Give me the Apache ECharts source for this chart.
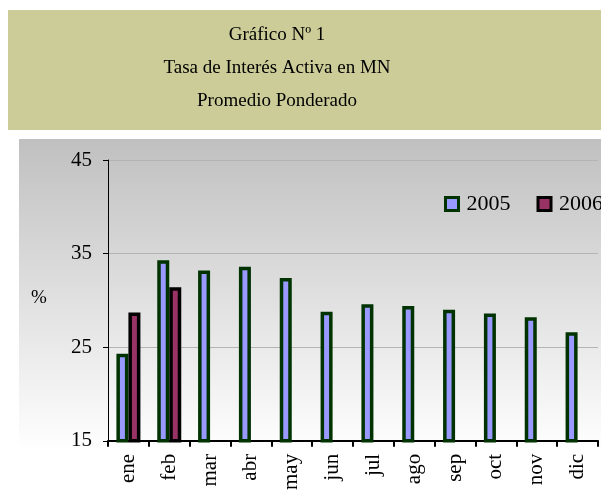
<!DOCTYPE html>
<html>
<head>
<meta charset="utf-8">
<script src="https://cdn.jsdelivr.net/npm/echarts@6/dist/echarts.min.js"></script>
<style>html,body{margin:0;padding:0;background:#fff;}#c{width:601px;height:493px;}</style>
</head>
<body>
<div id="c"></div>
<script>
const titleLines = ['Gráfico Nº 1', 'Tasa de Interés Activa en MN', 'Promedio Ponderado'];
const months = ['ene','feb','mar','abr','may','jun','jul','ago','sep','oct','nov','dic'];
const seriesNames = ['2005', '2006'];
const values2005 = [24.3, 34.3, 33.2, 33.6, 32.4, 28.8, 29.6, 29.4, 29.0, 28.6, 28.2, 26.6];
const values2006 = [28.7, 31.4, null, null, null, null, null, null, null, null, null, null];
const yTicks = [15, 25, 35, 45];

const FONT = '"Liberation Serif", "Times New Roman", serif';
const chart = echarts.init(document.getElementById('c'), null, {renderer: 'canvas'});
chart.setOption({
  animation: false,
  backgroundColor: '#ffffff',
  graphic: [
    {type: 'rect', z: -10, shape: {x: 8, y: 10, width: 600, height: 120}, style: {fill: '#cccc99'}},
    {type: 'rect', z: -10, shape: {x: 19, y: 139, width: 590, height: 340},
      style: {fill: new echarts.graphic.LinearGradient(0, 0, 0, 1, [
        {offset: 0, color: '#c0c0c0'}, {offset: 0.92, color: '#ffffff'}, {offset: 1, color: '#ffffff'}])}},
    {type: 'text', left: 31, top: 289, style: {text: '%', font: '19px ' + FONT, fill: '#000'}}
  ],
  title: titleLines.map((t, i) => ({
    text: t, left: 272, top: 21 + i * 33, textAlign: 'center',
    textStyle: {fontFamily: FONT, fontSize: 19, fontWeight: 'normal', color: '#000'}
  })),
  legend: {
    data: seriesNames, left: 444, top: 193, width: 300, orient: 'horizontal', padding: 0,
    itemWidth: 13, itemHeight: 13, itemGap: 26, icon: 'rect',
    itemStyle: {borderWidth: 3},
    textStyle: {fontFamily: FONT, fontSize: 22, color: '#000', padding: [0, 0, 0, 3]}
  },
  grid: {left: 108, right: 3, top: 160, bottom: 50, containLabel: false},
  xAxis: {
    type: 'category', data: months,
    axisLine: {lineStyle: {color: '#000', width: 2}},
    axisTick: {show: true, length: 6, lineStyle: {color: '#000', width: 2}},
    axisLabel: {rotate: 90, margin: 13, fontFamily: FONT, fontSize: 21, color: '#000'}
  },
  yAxis: {
    type: 'value', min: 15, max: 45, interval: 10,
    axisLine: {show: true, lineStyle: {color: '#000', width: 1}},
    axisTick: {show: true, length: 5, lineStyle: {color: '#000'}},
    axisLabel: {margin: 16, fontFamily: FONT, fontSize: 21, color: '#000',
      formatter: v => yTicks.includes(v) ? String(v) : ''},
    splitLine: {show: true, lineStyle: {color: '#b4b4b4', width: 1}}
  },
  series: [
    {name: '2005', type: 'bar', data: values2005, barWidth: 12, barGap: '0%',
      itemStyle: {color: '#9999ff', borderColor: '#003300', borderWidth: 3.5}},
    {name: '2006', type: 'bar', data: values2006, barWidth: 12, barGap: '0%',
      itemStyle: {color: '#993366', borderColor: '#000000', borderWidth: 3.5}}
  ]
});
</script>
</body>
</html>
